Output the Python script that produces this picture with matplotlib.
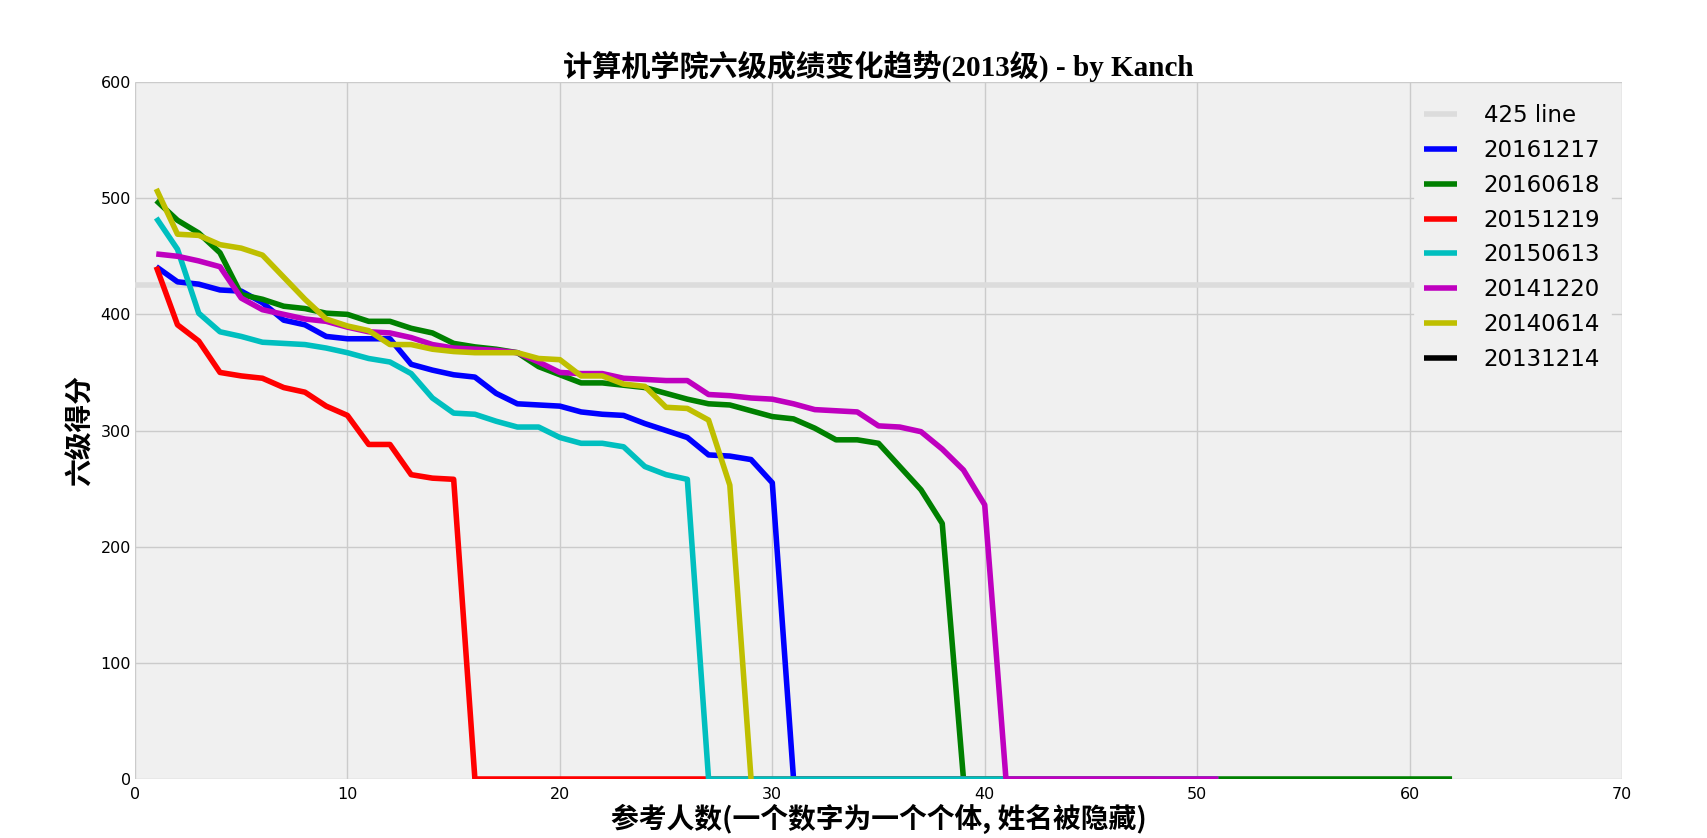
import matplotlib
matplotlib.use("Agg")
import matplotlib.pyplot as plt

# ---------------- data ----------------
title_text = "计算机学院六级成绩变化趋势(2013级) - by Kanch"
xlabel_text = "参考人数(一个数字为一个个体, 姓名被隐藏)"
ylabel_text = "六级得分"

line425_x = [0, 62]
line425_y = [425, 425]

labels = ["20161217", "20160618", "20151219", "20150613", "20141220", "20140614", "20131214"]
colors = ["b", "g", "r", "c", "m", "y", "k"]

s20161217 = [441, 428, 426, 421, 420, 410, 395, 391, 381, 379, 379, 379, 357, 352, 348, 346,
             332, 323, 322, 321, 316, 314, 313, 306, 300, 294, 279, 278, 275, 255,
             0, 0, 0, 0, 0, 0, 0, 0, 0, 0, 0, 0, 0, 0, 0, 0, 0, 0]
s20160618 = [498, 481, 470, 453, 417, 413, 407, 405, 401, 400, 394, 394, 388, 384, 375, 372,
             370, 367, 355, 348, 341, 341, 339, 337, 332, 327, 323, 322, 317, 312, 310, 302,
             292, 292, 289, 269, 249, 220,
             0, 0, 0, 0, 0, 0, 0, 0, 0, 0, 0, 0, 0, 0, 0, 0, 0, 0, 0, 0, 0, 0, 0, 0]
s20151219 = [441, 391, 377, 350, 347, 345, 337, 333, 321, 313, 288, 288, 262, 259, 258,
             0, 0, 0, 0, 0, 0, 0, 0, 0, 0, 0, 0, 0, 0, 0, 0, 0, 0, 0, 0, 0, 0, 0, 0,
             0, 0, 0, 0, 0, 0, 0, 0, 0]
s20150613 = [483, 456, 401, 385, 381, 376, 375, 374, 371, 367, 362, 359, 349, 328, 315, 314,
             308, 303, 303, 294, 289, 289, 286, 269, 262, 258,
             0, 0, 0, 0, 0, 0, 0, 0, 0, 0, 0, 0, 0, 0, 0, 0, 0, 0, 0, 0, 0, 0, 0, 0, 0]
s20141220 = [452, 450, 446, 441, 414, 404, 400, 396, 394, 389, 385, 384, 380, 374, 371, 370,
             369, 367, 359, 350, 349, 349, 345, 344, 343, 343, 331, 330, 328, 327, 323, 318,
             317, 316, 304, 303, 299, 284, 266, 236,
             0, 0, 0, 0, 0, 0, 0, 0, 0, 0, 0]
s20140614 = [508, 469, 468, 460, 457, 451, 432, 413, 396, 390, 386, 374, 374, 370, 368, 367,
             367, 367, 362, 361, 347, 347, 340, 338, 320, 319, 309, 253, 0]
s20131214 = []

series = [s20161217, s20160618, s20151219, s20150613, s20141220, s20140614, s20131214]

# ---------------- style ----------------
plt.style.use("fivethirtyeight")
plt.rcParams["font.family"] = ["DejaVu Sans"]

fig = plt.figure(figsize=(17.07, 8.38), dpi=100, facecolor="white")
ax = fig.add_axes([0.0791, 0.0704, 0.8711, 0.8317])
ax.set_facecolor("#f0f0f0")

ax.plot(line425_x, line425_y, color="#dcdcdc", linewidth=4, label="425 line")
for vals, lab, col in zip(series, labels, colors):
    xs = list(range(1, len(vals) + 1))
    ax.plot(xs, vals, color=col, linewidth=4, label=lab)

ax.set_xlim(0, 70)
ax.set_ylim(0, 600)
ax.set_xticks(range(0, 71, 10))
ax.set_yticks(range(0, 601, 100))
ax.grid(True, color="#cbcbcb", linewidth=1)
ax.tick_params(axis="both", labelsize=11.5, length=0)
ax.tick_params(axis="x", pad=6)
ax.tick_params(axis="y", pad=3)
for sp in ax.spines.values():
    sp.set_visible(False)

ax.set_title(title_text, family=["Liberation Serif", "Noto Sans CJK SC"],
             fontsize=21, fontweight="bold", pad=4)
ax.set_xlabel(xlabel_text, family=["Noto Sans CJK SC", "DejaVu Sans"],
              fontsize=20, fontweight="bold", labelpad=1)
ax.set_ylabel(ylabel_text, family=["Noto Sans CJK SC", "DejaVu Sans"],
              fontsize=20, fontweight="bold", labelpad=4)

leg = ax.legend(loc="upper right", fontsize=16.5, frameon=True, fancybox=True,
                facecolor="#f0f0f0", edgecolor="#f0f0f0", framealpha=1,
                borderpad=0.45, labelspacing=0.52, handlelength=1.45,
                handletextpad=1.15)

fig.savefig("out.png", dpi=100, facecolor="white")
